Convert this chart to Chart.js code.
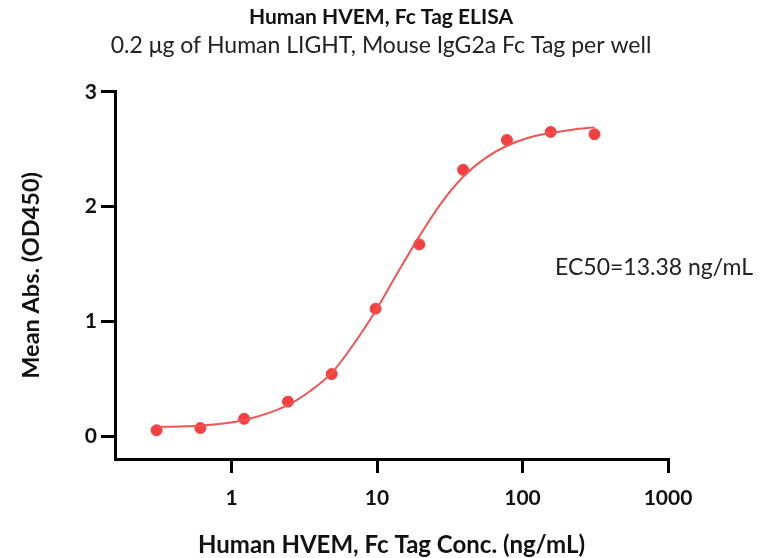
<!DOCTYPE html>
<html><head><meta charset="utf-8">
<script src="https://cdn.jsdelivr.net/npm/chart.js@4"></script>
<style>html,body{margin:0;padding:0;background:#fff}#wrap{width:762px;height:558px}</style>
</head><body><div id="wrap"><canvas id="c" width="762" height="558"></canvas></div>
<script>
const titleText = "Human HVEM, Fc Tag ELISA";
const subtitleText = "0.2 μg of Human LIGHT, Mouse IgG2a Fc Tag per well";
const xTitle = "Human HVEM, Fc Tag Conc. (ng/mL)";
const yTitle = "Mean Abs. (OD450)";
const annotationText = "EC50=13.38 ng/mL";
const concentrations = [0.305, 0.61, 1.22, 2.44, 4.88, 9.77, 19.53, 39.06, 78.13, 156.25, 312.5];
const meanAbs = [0.05, 0.07, 0.15, 0.30, 0.54, 1.11, 1.67, 2.32, 2.58, 2.65, 2.63];
const fitConc = [0.305, 0.61, 1.22, 2.44, 3.45, 4.88, 6.9, 9.77, 13.38, 19.53, 27.6, 39.06, 55.2, 78.13, 110, 156.25, 221, 312.5];
const fitAbs = [0.08, 0.09, 0.14, 0.27, 0.39, 0.55, 0.80, 1.09, 1.39, 1.74, 2.03, 2.26, 2.42, 2.53, 2.60, 2.64, 2.67, 2.69];
const xTicks = [1, 10, 100, 1000];
const yTicks = [0, 1, 2, 3];

const FONT = "Lato";
const pointColor = "#f23f3f";
const lineColor = "#f25454";

const ec50Label = {
  id: "ec50Label",
  afterDraw(chart) {
    const ctx = chart.ctx;
    ctx.save();
    ctx.font = "23px " + FONT;
    ctx.fillStyle = "#222";
    ctx.textAlign = "left";
    ctx.textBaseline = "middle";
    ctx.fillText(annotationText, 555, 268);
    ctx.restore();
  }
};

function build() {
  new Chart(document.getElementById("c"), {
    data: {
      datasets: [
        {
          type: "line",
          data: fitConc.map((x, i) => ({x, y: fitAbs[i]})),
          borderColor: lineColor,
          borderWidth: 2,
          pointRadius: 0,
          cubicInterpolationMode: "monotone",
          fill: false
        },
        {
          type: "scatter",
          data: concentrations.map((x, i) => ({x, y: meanAbs[i]})),
          backgroundColor: pointColor,
          borderColor: pointColor,
          pointRadius: 5.5,
          pointHoverRadius: 5.5
        }
      ]
    },
    options: {
      responsive: false,
      animation: false,
      devicePixelRatio: 1,
      layout: {padding: {left: 0, right: 0, top: 0, bottom: 0}},
      plugins: {
        legend: {display: false},
        tooltip: {enabled: false},
        title: {
          display: true, text: titleText, color: "#111",
          font: {family: FONT, size: 21, weight: "bold", lineHeight: 1.2},
          padding: {top: 4.4, bottom: 0}
        },
        subtitle: {
          display: true, text: subtitleText, color: "#222",
          font: {family: FONT, size: 23, weight: "normal", lineHeight: 1.2},
          padding: {top: 2.6, bottom: 32}
        }
      },
      scales: {
        x: {
          type: "logarithmic",
          min: 0.158, max: 1000,
          afterBuildTicks(s) { s.ticks = xTicks.map(v => ({value: v})); },
          afterFit(s) { s.height = 99; },
          ticks: {
            callback: (v) => String(v),
            color: "#111",
            font: {family: FONT, size: 21, weight: "bold"},
            padding: 13, maxRotation: 0, autoSkip: false
          },
          grid: {drawOnChartArea: false, drawTicks: true, tickLength: 14, color: "#000", lineWidth: 3},
          border: {display: true, color: "#000", width: 3},
          title: {
            display: true, text: xTitle, color: "#111",
            font: {family: FONT, size: 24, weight: "bold", lineHeight: 1.1},
            padding: {top: 0, bottom: 0}
          }
        },
        y: {
          type: "linear",
          min: -0.2, max: 3,
          afterBuildTicks(s) { s.ticks = yTicks.map(v => ({value: v})); },
          afterFit(s) { s.width = 115; },
          ticks: {
            color: "#111",
            font: {family: FONT, size: 21, weight: "bold"},
            padding: 4
          },
          grid: {drawOnChartArea: false, drawTicks: true, tickLength: 14, color: "#000", lineWidth: 3},
          border: {display: true, color: "#000", width: 3},
          title: {
            display: true, text: yTitle, color: "#111",
            font: {family: FONT, size: 23.5, weight: "bold", lineHeight: 1.2},
            padding: {top: 17, bottom: 0}
          }
        },
        spacer: {
          type: "linear",
          position: "right",
          display: true,
          afterFit(s) { s.width = 94; },
          ticks: {display: false},
          grid: {display: false, drawTicks: false},
          border: {display: false}
        }
      }
    },
    plugins: [ec50Label]
  });
}

if (document.fonts && document.fonts.load) {
  Promise.all([
    document.fonts.load("bold 20px " + FONT),
    document.fonts.load("20px " + FONT)
  ]).then(build, build);
} else { build(); }
</script>
</body></html>
